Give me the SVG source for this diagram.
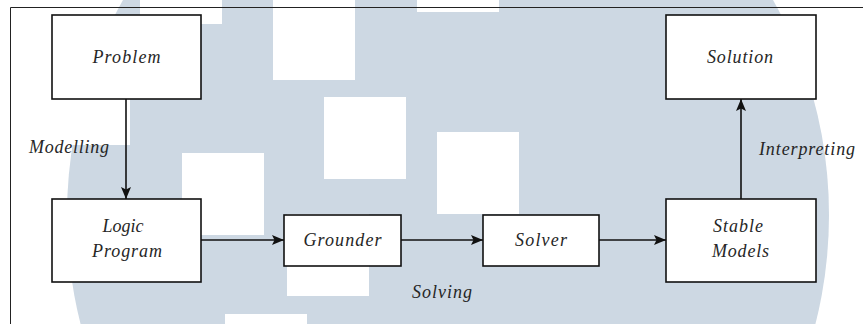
<svg xmlns="http://www.w3.org/2000/svg" width="863" height="324" viewBox="0 0 863 324">
  <defs>
    <style>
      .box { fill: #ffffff; stroke: #111111; stroke-width: 1.6; }
      .lbl { font-family: "Liberation Serif", "DejaVu Serif", serif; font-style: italic; font-size: 18px; fill: #262626; }
      .mid { text-anchor: middle; }
      .edge { stroke: #111111; stroke-width: 1.6; fill: none; marker-end: url(#arrow); }
      .sq { fill: #ffffff; }
    </style>
    <marker id="arrow" viewBox="0 0 12 10" refX="12" refY="5" markerWidth="12" markerHeight="10" markerUnits="userSpaceOnUse" orient="auto">
      <path d="M0,0 L12,5 L0,10 L2.5,5 Z" fill="#111111"/>
    </marker>
  </defs>

  <rect x="0" y="0" width="863" height="324" fill="#ffffff"/>

  <g id="watermark">
    <ellipse cx="448" cy="215" rx="381" ry="412" fill="#cdd8e3"/>
    <rect class="sq" x="140" y="-58" width="82" height="82"/>
    <rect class="sq" x="273" y="-2" width="82" height="82"/>
    <rect class="sq" x="417" y="-70" width="82" height="82"/>
    <rect class="sq" x="48" y="63" width="82" height="82"/>
    <rect class="sq" x="324" y="97" width="82" height="82"/>
    <rect class="sq" x="437" y="132" width="82" height="82"/>
    <rect class="sq" x="182" y="153" width="82" height="82"/>
    <rect class="sq" x="287" y="214" width="82" height="82"/>
    <rect class="sq" x="225" y="314" width="82" height="82"/>
  </g>

  <g id="frame">
    <path d="M10.5,324 L10.5,7.5 L863,7.5" fill="none" stroke="#222222" stroke-width="1"/>
  </g>

  <g id="connectors">
    <line class="edge" x1="126" y1="99" x2="126" y2="199"/>
    <line class="edge" x1="201" y1="240" x2="284" y2="240"/>
    <line class="edge" x1="401" y1="240" x2="483" y2="240"/>
    <line class="edge" x1="599" y1="240" x2="666" y2="240"/>
    <line class="edge" x1="741" y1="199" x2="741" y2="99"/>
    <text class="lbl" x="29" y="153" textLength="80">Modelling</text>
    <text class="lbl mid" x="442" y="298" textLength="60">Solving</text>
    <text class="lbl" x="759" y="155" textLength="96">Interpreting</text>
  </g>

  <g id="problem">
    <rect class="box" x="52" y="15" width="149" height="84"/>
    <text class="lbl mid" x="126.5" y="63" textLength="68">Problem</text>
  </g>

  <g id="logic-program">
    <rect class="box" x="52" y="199" width="149" height="83"/>
    <text class="lbl mid" x="123" y="232" textLength="41">Logic</text>
    <text class="lbl mid" x="127" y="257" textLength="70">Program</text>
  </g>

  <g id="grounder">
    <rect class="box" x="284" y="215" width="117" height="51"/>
    <text class="lbl mid" x="342.5" y="246" textLength="78">Grounder</text>
  </g>

  <g id="solver">
    <rect class="box" x="483" y="215" width="116" height="51"/>
    <text class="lbl mid" x="541" y="246" textLength="52">Solver</text>
  </g>

  <g id="stable-models">
    <rect class="box" x="666" y="199" width="150" height="83"/>
    <text class="lbl mid" x="738" y="232" textLength="50">Stable</text>
    <text class="lbl mid" x="740.5" y="257" textLength="57">Models</text>
  </g>

  <g id="solution">
    <rect class="box" x="666" y="15" width="150" height="84"/>
    <text class="lbl mid" x="740" y="63" textLength="66">Solution</text>
  </g>
</svg>
